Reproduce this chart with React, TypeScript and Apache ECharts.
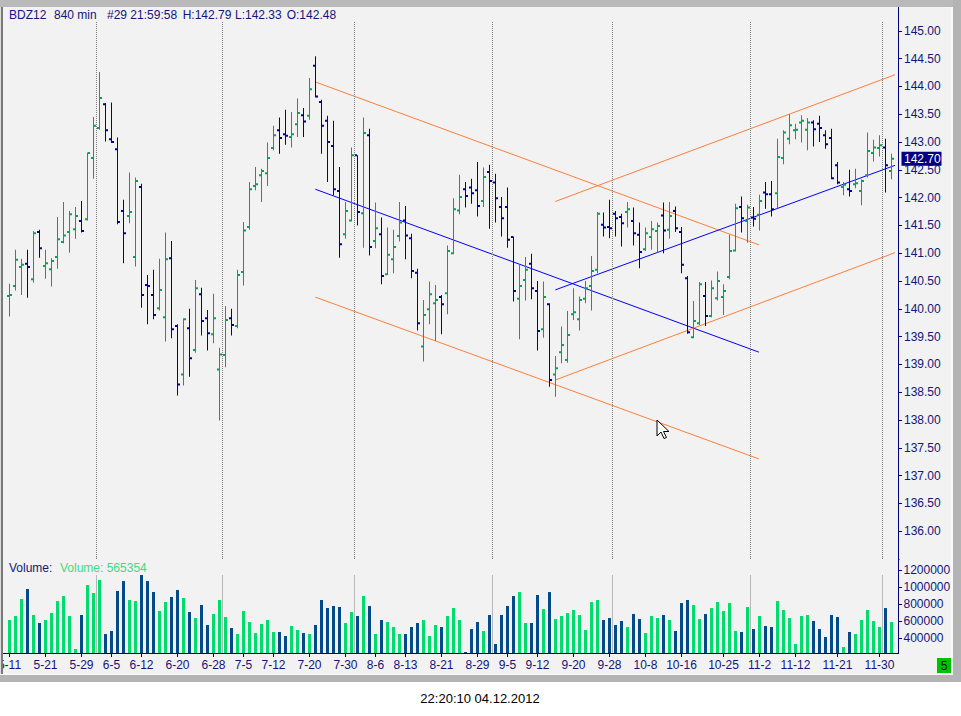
import React, { useEffect, useRef } from "react";
import * as echarts from "echarts";

const FONT = "'Liberation Sans', Arial, sans-serif";
const NAVY = "#000080";
const LABEL = "#14147a";
const UP_BAR = "#00a650";
const DOWN_BAR = "#0000a0";
const UP_VOL = "#00dc6e";
const DOWN_VOL = "#034a8a";
const ORANGE = "#ff7f3a";
const BLUE = "#0000ff";
const DOT = "#7f7f7f";

const dates = [
  "5-11", "5-14", "5-15", "5-16", "5-17", "5-18", "5-21", "5-22", "5-23", "5-24", "5-25", "5-28", "5-29", "5-30", "5-31",
  "6-1", "6-4", "6-5", "6-6", "6-7", "6-8", "6-11", "6-12", "6-13", "6-14", "6-15", "6-18", "6-19", "6-20", "6-21", "6-22", "6-25", "6-26", "6-27", "6-28", "6-29",
  "7-2", "7-3", "7-4", "7-5", "7-6", "7-9", "7-10", "7-11", "7-12", "7-13", "7-16", "7-17", "7-18", "7-19", "7-20", "7-23", "7-24", "7-25", "7-26", "7-27", "7-30", "7-31",
  "8-1", "8-2", "8-3", "8-6", "8-7", "8-8", "8-9", "8-10", "8-13", "8-14", "8-15", "8-16", "8-17", "8-20", "8-21", "8-22", "8-23", "8-24", "8-27", "8-28", "8-29", "8-30", "8-31",
  "9-3", "9-4", "9-5", "9-6", "9-7", "9-10", "9-11", "9-12", "9-13", "9-14", "9-17", "9-18", "9-19", "9-20", "9-21", "9-24", "9-25", "9-26", "9-27", "9-28",
  "10-1", "10-2", "10-3", "10-4", "10-5", "10-8", "10-9", "10-10", "10-11", "10-12", "10-15", "10-16", "10-17", "10-18", "10-19", "10-22", "10-23", "10-24", "10-25", "10-26", "10-29", "10-30", "10-31",
  "11-1", "11-2", "11-5", "11-6", "11-7", "11-8", "11-9", "11-12", "11-13", "11-14", "11-15", "11-16", "11-19", "11-20", "11-21", "11-22", "11-23", "11-26", "11-27", "11-28", "11-29", "11-30",
  "12-3", "12-4",
];

const opens = [
  140.23, 140.41, 140.75, 140.81, 140.53, 141.38, 140.77, 140.71, 140.93, 141.20,
  141.38, 141.43, 141.58, 141.61, 142.71, 143.25, 143.68, 143.05, 142.87, 141.76,
  141.67, 140.93, 142.19, 140.43, 140.25, 140.01, 139.85, 140.91, 139.69, 138.82,
  139.65, 139.26, 140.26, 139.83, 139.54, 138.91, 139.17, 139.83, 139.69, 140.66,
  141.47, 142.21, 142.40, 142.44, 142.89, 143.21, 143.14, 143.09, 143.32, 143.48,
  143.47, 144.37, 143.72, 143.38, 142.93, 142.12, 141.34, 141.59, 142.76, 141.72,
  143.12, 141.22, 141.34, 140.62, 140.89, 141.31, 141.59, 141.27, 140.65, 139.32,
  139.99, 140.10, 140.21, 140.28, 141.00, 141.77, 142.15, 142.18, 142.13, 141.94,
  142.46, 142.27, 141.83, 141.83, 141.29, 140.18, 140.52, 140.81, 140.32, 139.63,
  140.08, 138.82, 139.22, 139.08, 139.90, 139.81, 140.18, 140.41, 140.70, 141.51,
  141.47, 141.71, 141.65, 141.74, 141.58, 141.33, 141.07, 141.29, 141.40, 141.68,
  141.42, 141.76, 141.38, 140.55, 139.49, 139.74, 140.23, 139.87, 140.19, 140.21,
  140.57, 141.05, 141.83, 141.58, 141.64, 141.69, 142.09, 142.06, 142.08, 142.71,
  143.06, 143.21, 143.35, 143.22, 143.35, 143.33, 143.12, 143.07, 142.58, 142.19,
  142.15, 142.24, 142.12, 142.40, 142.80, 142.89, 142.90, 142.48,
];

const highs = [
  140.45, 141.06, 140.90, 141.06, 141.40, 141.42, 141.06, 140.91, 141.65, 141.92,
  141.76, 141.83, 141.94, 142.81, 143.45, 144.26, 143.70, 143.71, 143.08, 141.96,
  142.45, 142.36, 142.25, 140.61, 140.70, 140.90, 141.37, 141.22, 139.72, 139.83,
  140.00, 140.52, 140.38, 139.98, 140.27, 139.30, 140.05, 140.00, 140.70, 141.56,
  142.28, 142.55, 142.52, 142.99, 143.29, 143.44, 143.58, 143.54, 143.78, 143.61,
  144.15, 144.54, 143.76, 143.47, 143.38, 142.55, 141.92, 142.90, 142.76, 143.44,
  143.24, 141.91, 141.64, 141.46, 141.42, 141.92, 141.85, 141.35, 140.72, 140.16,
  140.49, 140.43, 140.25, 141.14, 141.99, 142.41, 142.28, 142.34, 142.64, 142.54,
  142.59, 142.43, 142.01, 142.18, 141.30, 140.79, 140.93, 140.99, 140.50, 140.49,
  140.10, 139.15, 139.68, 139.96, 140.37, 140.22, 140.50, 140.95, 141.74, 141.73,
  141.96, 141.76, 141.71, 141.92, 141.82, 141.55, 141.46, 141.58, 141.55, 141.91,
  141.92, 141.84, 141.47, 140.59, 140.14, 140.48, 140.48, 140.51, 140.67, 140.44,
  141.33, 141.89, 142.02, 141.87, 141.83, 142.05, 142.28, 142.30, 143.06, 143.21,
  143.50, 143.33, 143.48, 143.43, 143.39, 143.47, 143.21, 143.24, 142.64, 142.28,
  142.50, 142.52, 142.33, 143.17, 143.04, 143.12, 143.06, 142.79,
];

const lows = [
  139.86, 140.33, 140.25, 140.20, 140.47, 140.92, 140.54, 140.40, 140.72, 141.18,
  141.01, 141.26, 141.37, 141.59, 142.34, 143.22, 143.01, 142.98, 141.52, 140.82,
  141.54, 140.76, 140.02, 139.72, 139.81, 139.97, 139.41, 139.47, 138.44, 138.62,
  138.78, 139.21, 139.52, 139.25, 139.38, 137.99, 138.95, 139.52, 139.65, 140.42,
  141.42, 142.13, 141.92, 142.21, 142.85, 142.79, 142.95, 142.90, 143.09, 143.09,
  143.40, 143.80, 142.79, 142.28, 142.04, 140.92, 141.26, 141.57, 141.50, 141.10,
  140.96, 141.09, 140.44, 140.61, 140.64, 141.21, 140.89, 140.55, 139.61, 139.05,
  139.72, 139.42, 139.54, 139.90, 140.98, 141.70, 141.82, 141.89, 141.66, 141.83,
  141.44, 141.55, 141.30, 141.10, 140.13, 139.45, 140.15, 140.17, 139.25, 139.48,
  138.60, 138.42, 139.02, 139.03, 139.80, 139.61, 140.10, 139.97, 140.64, 141.30,
  141.27, 141.30, 141.12, 141.46, 141.14, 140.73, 141.04, 141.06, 141.01, 141.00,
  141.26, 141.38, 140.64, 139.55, 139.47, 139.71, 139.69, 139.85, 140.15, 139.89,
  140.53, 141.03, 141.37, 141.19, 141.48, 141.41, 141.80, 141.66, 141.81, 142.60,
  142.96, 143.05, 142.99, 142.85, 142.92, 143.00, 142.88, 142.33, 142.24, 142.04,
  142.02, 142.17, 141.86, 142.36, 142.65, 142.74, 142.09, 142.33,
];

const closes = [
  140.25, 140.88, 140.79, 140.75, 141.36, 141.09, 140.82, 140.86, 141.25, 141.32,
  141.70, 141.67, 141.40, 142.80, 143.29, 143.79, 143.21, 143.00, 141.56, 141.36,
  141.74, 142.30, 140.25, 140.41, 139.89, 140.34, 140.89, 139.63, 138.64, 139.81,
  139.11, 140.37, 139.78, 139.56, 139.83, 139.18, 139.80, 139.71, 140.61, 141.41,
  142.15, 142.24, 142.48, 142.71, 143.12, 143.07, 143.11, 143.14, 143.52, 143.37,
  143.95, 143.82, 143.29, 143.00, 142.15, 141.16, 141.76, 142.76, 141.74, 143.16,
  141.11, 141.45, 140.59, 140.97, 141.11, 141.55, 141.32, 140.68, 139.74, 139.89,
  140.26, 140.16, 140.08, 141.04, 141.79, 142.01, 142.03, 142.08, 141.85, 142.37,
  142.30, 141.99, 141.63, 141.24, 140.32, 140.41, 140.70, 140.37, 139.60, 140.21,
  138.72, 138.93, 139.35, 139.53, 139.94, 140.16, 140.37, 140.68, 141.71, 141.46,
  141.45, 141.63, 141.54, 141.79, 141.36, 141.02, 141.36, 141.43, 141.49, 141.41,
  141.67, 141.45, 140.79, 139.58, 139.78, 140.44, 139.87, 140.37, 140.50, 140.32,
  141.04, 141.81, 141.63, 141.82, 141.62, 141.94, 142.06, 141.79, 142.73, 143.17,
  143.30, 143.22, 143.38, 143.35, 143.23, 143.25, 142.96, 142.35, 142.27, 142.23,
  142.12, 142.26, 142.30, 142.84, 142.90, 142.94, 142.58, 142.70,
];

const volumes = [
  612600, 659900, 860700, 978800, 671700, 577200, 612600, 695300, 837100, 896100,
  659900, 270000, 671700, 1026000, 931600, 1085000, 447000, 482700, 955200, 1073000,
  848900, 837100, 1144000, 1073000, 943400, 719000, 825300, 884300, 967000, 872500,
  707100, 636300, 789800, 553600, 683500, 848900, 648100, 518100, 447300, 719000,
  589000, 459000, 565400, 612600, 470900, 470900, 423600, 541800, 494500, 459000,
  447300, 553600, 848900, 754400, 778000, 766200, 577200, 707100, 659900, 896100,
  778000, 447300, 612600, 589000, 530000, 447300, 447300, 530000, 577200, 612600,
  423600, 553600, 530000, 659900, 754400, 612600, 235000, 506000, 589000, 483000,
  672000, 329000, 672000, 778000, 896000, 943000, 577000, 577000, 908000, 743000,
  943000, 624000, 660000, 695000, 731000, 672000, 495000, 825000, 849000, 613000,
  636000, 554000, 601000, 530000, 684000, 624000, 459000, 660000, 636000, 672000,
  613000, 483000, 813000, 849000, 790000, 624000, 684000, 754000, 825000, 719000,
  813000, 483000, 471000, 766000, 506000, 660000, 542000, 530000, 837000, 731000,
  636000, 329000, 660000, 672000, 601000, 506000, 412000, 672000, 648000, 294000,
  471000, 447000, 613000, 731000, 601000, 530000, 754000, 589000,
];

const labelDates = [
  "5-11", "5-21", "5-29", "6-5", "6-12", "6-20", "6-28", "7-5", "7-12", "7-20", "7-30", "8-6", "8-13",
  "8-21", "8-29", "9-5", "9-12", "9-20", "9-28", "10-8", "10-16", "10-25", "11-2", "11-12", "11-21", "11-30",
];
const monthStarts = ["6-1", "7-2", "8-1", "9-3", "10-1", "11-1", "12-3"];
const priceTicks = [135.5, 136, 136.5, 137, 137.5, 138, 138.5, 139, 139.5, 140, 140.5, 141, 141.5, 142, 142.5, 143, 143.5, 144, 144.5, 145];
const priceLabels = [136, 136.5, 137, 137.5, 138, 138.5, 139, 139.5, 140, 140.5, 141, 141.5, 142, 142.5, 143, 143.5, 144, 144.5, 145];
const volumeTicks = [400000, 600000, 800000, 1000000, 1200000];

// trend lines: [bar index, price]
const downUpper = [[50.97, 144.08], [124.9, 141.15]];
const downMiddle = [[50.97, 142.15], [124.9, 139.22]];
const downLower = [[50.97, 140.21], [124.9, 137.3]];
const upUpper = [[90.97, 141.93], [148.08, 144.23]];
const upMiddle = [[90.97, 140.34], [148.08, 142.6]];
const upLower = [[90.97, 138.72], [148.08, 141.03]];

const headerParts = [
  { text: "BDZ12", x: 9 },
  { text: "840 min", x: 54 },
  { text: "#29 21:59:58", x: 107 },
  { text: "H:142.79", x: 182.7 },
  { text: "L:142.33", x: 235 },
  { text: "O:142.48", x: 286.7 },
];
const volumeTitle = "Volume:";
const volumeValue = "Volume: 565354";
const timestamp = "22:20:10 04.12.2012";
const pageNumber = "5";

export default function App() {
  const ref = useRef<HTMLDivElement>(null);

  useEffect(() => {
    if (!ref.current) return;
    const chart = echarts.init(ref.current, undefined, { renderer: "svg" });

    const ohlc = dates.map((d, i) => [i, opens[i], closes[i], lows[i], highs[i]]);
    const vol = volumes.map((v, i) => ({
      value: v,
      itemStyle: { color: closes[i] >= opens[i] ? UP_VOL : DOWN_VOL },
    }));
    const monthBounds = monthStarts.map((m) => dates.indexOf(m) - 0.5);
    const labelInterval = (_i: number, v: string) => labelDates.includes(v);
    const lastIdx = dates.length - 1;
    const lastClose = closes[lastIdx];

    const dotted = {
      silent: true,
      symbol: ["none", "none"],
      label: { show: false },
      lineStyle: { color: DOT, type: [1, 1], width: 1 },
      emphasis: { disabled: true },
      data: monthBounds.map((v) => ({ xAxis: v })),
    };

    const trend = (data: number[][], color: string) => ({
      type: "line",
      xAxisIndex: 2,
      yAxisIndex: 0,
      data,
      symbol: "none",
      clip: false,
      silent: true,
      lineStyle: { color, width: 1 },
      z: 4,
    });

    const option: any = {
      animation: false,
      backgroundColor: "#ffffff",
      textStyle: { fontFamily: FONT },
      grid: [
        { left: 6.5, top: 22, width: 888, height: 537, containLabel: false, outerBoundsMode: "none" },
        { left: 6.5, top: 557, width: 888, height: 96.5, containLabel: false, outerBoundsMode: "none" },
      ],
      xAxis: [
        {
          type: "category", gridIndex: 0, data: dates, boundaryGap: true,
          axisLine: { show: false, onZero: false }, axisTick: { show: false }, axisLabel: { show: false }, splitLine: { show: false },
        },
        {
          type: "category", gridIndex: 1, data: dates, boundaryGap: true,
          axisLine: { show: false, onZero: false },
          axisTick: { show: true, alignWithLabel: true, interval: labelInterval, length: 3.5, lineStyle: { color: NAVY } },
          axisLabel: { interval: labelInterval, color: LABEL, fontSize: 12, fontFamily: FONT, margin: 5, hideOverlap: false },
          splitLine: { show: false },
        },
        { type: "value", gridIndex: 0, min: -0.5, max: 147.5, show: false, axisLine: { onZero: false } },
        { type: "value", gridIndex: 1, min: -0.5, max: 147.5, show: false, axisLine: { onZero: false } },
      ],
      yAxis: [
        {
          type: "value", gridIndex: 0, position: "right", offset: 4, min: 135.5, max: 145.158, z: 0,
          axisLine: { show: false, onZero: false },
          axisTick: { show: true, customValues: priceTicks, length: 3.5, lineStyle: { color: NAVY } },
          axisLabel: {
            customValues: priceLabels, formatter: (v: number) => v.toFixed(2),
            color: LABEL, fontSize: 12, fontFamily: FONT, margin: 5.5,
          },
          splitLine: { show: false },
        },
        {
          type: "value", gridIndex: 1, position: "right", offset: 4, min: 217000, max: 1357000, z: 30,
          axisLine: { show: false, onZero: false },
          axisTick: { show: true, customValues: volumeTicks, length: 3.5, lineStyle: { color: NAVY } },
          axisLabel: {
            customValues: volumeTicks, formatter: (v: number) => String(Math.round(v)),
            color: LABEL, fontSize: 12, fontFamily: FONT, margin: 5,
          },
          splitLine: { show: false },
        },
      ],
      series: [
        { type: "line", xAxisIndex: 2, yAxisIndex: 0, data: [], markLine: dotted, z: 1, silent: true },
        { type: "line", xAxisIndex: 3, yAxisIndex: 1, data: [], markLine: dotted, z: 1, silent: true },
        {
          type: "custom",
          xAxisIndex: 0,
          yAxisIndex: 0,
          data: ohlc,
          encode: { x: 0, y: [1, 2, 3, 4] },
          silent: true,
          z: 5,
          renderItem: (params: any, api: any) => {
            const i = api.value(0);
            const o = api.value(1);
            const c = api.value(2);
            const pO = api.coord([i, o]);
            const pC = api.coord([i, c]);
            const pL = api.coord([i, api.value(3)]);
            const pH = api.coord([i, api.value(4)]);
            const x = pO[0];
            const col = c >= o ? UP_BAR : DOWN_BAR;
            return {
              type: "group",
              children: [
                { type: "rect", shape: { x: x - 0.5, y: pH[1], width: 1, height: Math.max(1, pL[1] - pH[1]) }, style: { fill: col } },
                { type: "rect", shape: { x: x - 2.5, y: pO[1] - 1, width: 2, height: 2 }, style: { fill: col } },
                { type: "rect", shape: { x: x + 0.5, y: pC[1] - 1, width: 2, height: 2 }, style: { fill: col } },
              ],
            };
          },
        },
        trend(downUpper, ORANGE),
        trend(downLower, ORANGE),
        trend(downMiddle, BLUE),
        trend(upUpper, ORANGE),
        trend(upLower, ORANGE),
        trend(upMiddle, BLUE),
        {
          type: "bar",
          xAxisIndex: 1,
          yAxisIndex: 1,
          data: vol,
          barWidth: 3,
          silent: true,
          z: 2,
        },
        {
          type: "custom",
          xAxisIndex: 0,
          yAxisIndex: 0,
          data: [[lastIdx, lastClose]],
          silent: true,
          z: 40,
          renderItem: (params: any, api: any) => {
            const p = api.coord([api.value(0), api.value(1)]);
            const cs = params.coordSys;
            const x0 = cs.x + cs.width + 7;
            return {
              type: "group",
              children: [
                { type: "rect", shape: { x: x0, y: p[1] - 7, width: 40, height: 14 }, style: { fill: NAVY } },
                {
                  type: "text", x: x0 + 2.5, y: p[1] + 0.5,
                  style: { text: api.value(1).toFixed(2), fill: "#ffffff", fontSize: 12, fontFamily: FONT, verticalAlign: "middle", align: "left" },
                },
              ],
            };
          },
        },
      ],
      graphic: {
        elements: [
          { type: "rect", z: -100, silent: true, shape: { x: 3, y: 7, width: 948, height: 667 }, style: { fill: "#f2f2f2" } },
          // covers
          { type: "rect", z: 20, silent: true, shape: { x: 3, y: 559, width: 895, height: 16 }, style: { fill: "#f2f2f2" } },
          { type: "rect", z: 20, silent: true, shape: { x: 899.5, y: 557.5, width: 50, height: 7 }, style: { fill: "#f2f2f2" } },
          // axis lines
          { type: "line", z: 25, silent: true, shape: { x1: 898.5, y1: 7, x2: 898.5, y2: 654 }, style: { stroke: NAVY, lineWidth: 1 } },
          { type: "line", z: 25, silent: true, shape: { x1: 3, y1: 653.5, x2: 899, y2: 653.5 }, style: { stroke: NAVY, lineWidth: 1 } },
          // header
          ...headerParts.map((p) => ({
            type: "text", z: 26, silent: true, x: p.x, y: 14.5,
            style: { text: p.text, fill: LABEL, fontSize: 12, fontFamily: FONT, verticalAlign: "middle" },
          })),
          {
            type: "text", z: 26, silent: true, x: 9, y: 567.5,
            style: { text: volumeTitle, fill: LABEL, fontSize: 12, fontFamily: FONT, verticalAlign: "middle" },
          },
          {
            type: "text", z: 26, silent: true, x: 60, y: 567.5,
            style: { text: volumeValue, fill: "#3ddc84", fontSize: 12, fontFamily: FONT, verticalAlign: "middle" },
          },
          // mouse cursor
          {
            type: "polygon", z: 45, silent: true,
            shape: { points: [[657, 420], [657, 436], [661, 432], [664, 438.5], [666.5, 437.5], [663.5, 431.5], [669, 431.5]] },
            style: { fill: "#ffffff", stroke: "#000000", lineWidth: 1 },
          },
          // frame
          { type: "rect", z: 50, silent: true, shape: { x: 0, y: 0, width: 961, height: 7 }, style: { fill: "#b9b9b9" } },
          { type: "rect", z: 50, silent: true, shape: { x: 0, y: 7, width: 1, height: 668 }, style: { fill: "#dcdcdc" } },
          { type: "rect", z: 50, silent: true, shape: { x: 1, y: 7, width: 2, height: 668 }, style: { fill: "#7a7a7a" } },
          { type: "rect", z: 50, silent: true, shape: { x: 951, y: 7, width: 2, height: 668 }, style: { fill: "#fafafa" } },
          { type: "rect", z: 50, silent: true, shape: { x: 953, y: 0, width: 8, height: 682 }, style: { fill: "#b4b4b4" } },
          { type: "rect", z: 50, silent: true, shape: { x: 0, y: 674, width: 953, height: 1 }, style: { fill: "#fafafa" } },
          { type: "rect", z: 50, silent: true, shape: { x: 0, y: 675, width: 961, height: 7 }, style: { fill: "#b4b4b4" } },
          // page box
          { type: "rect", z: 51, silent: true, shape: { x: 937, y: 658, width: 14, height: 15 }, style: { fill: "#00c000" } },
          {
            type: "text", z: 52, silent: true, x: 944, y: 666,
            style: { text: pageNumber, fill: "#002000", fontSize: 12, fontFamily: FONT, align: "center", verticalAlign: "middle" },
          },
          // timestamp
          {
            type: "text", z: 52, silent: true, x: 480, y: 698.5,
            style: { text: timestamp, fill: "#000000", fontSize: 13, fontFamily: FONT, align: "center", verticalAlign: "middle" },
          },
        ],
      },
    };

    chart.setOption(option);
    return () => chart.dispose();
  }, []);

  return (
    <div
      ref={ref}
      style={{ position: "fixed", left: 0, top: 0, width: 961, height: 716, background: "#ffffff" }}
    />
  );
}
